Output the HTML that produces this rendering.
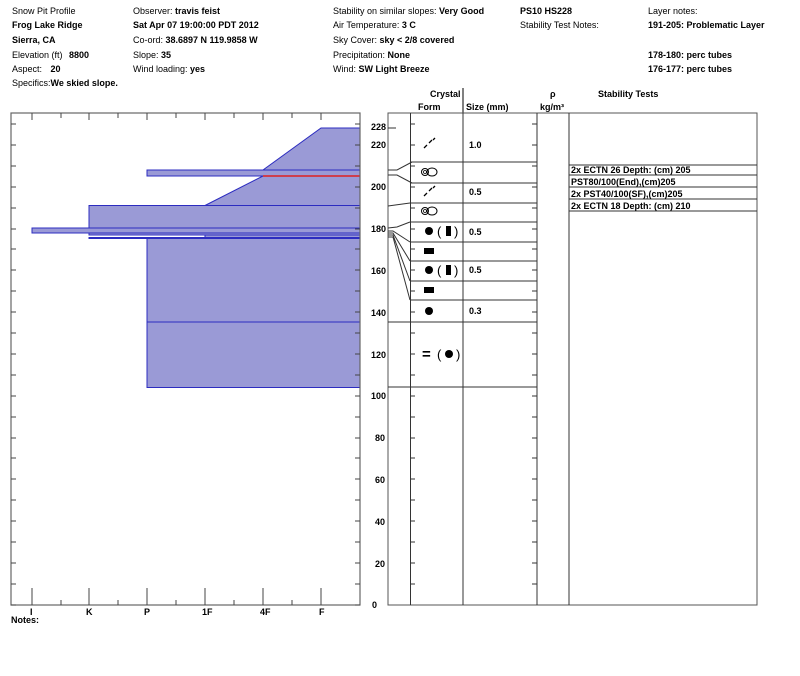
<!DOCTYPE html>
<html><head><meta charset="utf-8"><style>
html,body{margin:0;padding:0;background:#fff;width:800px;height:676px;overflow:hidden}
svg{display:block}
text{font-family:"Liberation Sans",Arial,sans-serif;font-size:9px;fill:#000}
.b{font-weight:bold}
.p{font-size:13px}
.e{font-size:15px;font-weight:bold}
</style></head><body>
<svg width="800" height="676" viewBox="0 0 800 676" xmlns="http://www.w3.org/2000/svg">
<g>
<text x="12" y="14">Snow Pit Profile</text>
<text x="12" y="28" class="b">Frog Lake Ridge</text>
<text x="12" y="43" class="b">Sierra, CA</text>
<text x="12" y="58">Elevation (ft) <tspan class="b" dx="4">8800</tspan></text>
<text x="12" y="72">Aspect: <tspan class="b" dx="6">20</tspan></text>
<text x="12" y="86">Specifics:<tspan class="b">We skied slope.</tspan></text>
<text x="133" y="14">Observer: <tspan class="b">travis feist</tspan></text>
<text x="133" y="28" class="b">Sat Apr 07 19:00:00 PDT 2012</text>
<text x="133" y="43">Co-ord: <tspan class="b">38.6897 N 119.9858 W</tspan></text>
<text x="133" y="58">Slope: <tspan class="b">35</tspan></text>
<text x="133" y="72">Wind loading: <tspan class="b">yes</tspan></text>
<text x="333" y="14">Stability on similar slopes: <tspan class="b">Very Good</tspan></text>
<text x="333" y="28">Air Temperature: <tspan class="b">3 C</tspan></text>
<text x="333" y="43">Sky Cover: <tspan class="b">sky &lt; 2/8 covered</tspan></text>
<text x="333" y="58">Precipitation: <tspan class="b">None</tspan></text>
<text x="333" y="72">Wind: <tspan class="b">SW Light Breeze</tspan></text>
<text x="520" y="14" class="b">PS10 HS228</text>
<text x="520" y="28">Stability Test Notes:</text>
<text x="648" y="14">Layer notes:</text>
<text x="648" y="28" class="b">191-205: Problematic Layer</text>
<text x="648" y="58" class="b">178-180: perc tubes</text>
<text x="648" y="72" class="b">176-177: perc tubes</text>
<text x="430" y="97" class="b">Crystal</text>
<text x="418" y="110" class="b">Form</text>
<text x="466" y="110" class="b">Size (mm)</text>
<text x="550" y="97" class="b">ρ</text>
<text x="540" y="110" class="b">kg/m³</text>
<text x="598" y="97" class="b">Stability Tests</text>
<line x1="463" y1="88" x2="463" y2="113" stroke="#000" stroke-width="1"/>
</g>

<g fill="#9a9ad6" stroke="#2c2cc0" stroke-width="1">
<polygon points="321,128 360,128 360,170 263,170"/>
<rect x="147" y="170" width="213" height="6"/>
<polygon points="263,176 360,176 360,205.5 205,205.5"/>
<rect x="89" y="205.5" width="271" height="22.5"/>
<rect x="32" y="228" width="328" height="5"/>
<rect x="89" y="233" width="271" height="2"/>
<rect x="205" y="235" width="155" height="2.5"/>
<rect x="89" y="237.5" width="271" height="1"/>
<rect x="147" y="238.5" width="213" height="83.5"/>
<rect x="147" y="322" width="213" height="65.5"/>
</g>
<line x1="263" y1="176" x2="360" y2="176" stroke="#e02020" stroke-width="1.5"/>
<rect x="11" y="113" width="349" height="492" fill="none" stroke="#666" stroke-width="1.2"/>
<g stroke="#444" stroke-width="1">
<path d="M11 605h5M11 584h5M11 563h5M11 542h5M11 521h5M11 500h5M11 479h5M11 458h5M11 438h5M11 417h5M11 396h5M11 375h5M11 354h5M11 333h5M11 312h5M11 291h5M11 270h5M11 249h5M11 229h5M11 208h5M11 187h5M11 166h5M11 145h5M11 124h5"/>
<path d="M360 605h-5M360 584h-5M360 563h-5M360 542h-5M360 521h-5M360 500h-5M360 479h-5M360 458h-5M360 438h-5M360 417h-5M360 396h-5M360 375h-5M360 354h-5M360 333h-5M360 312h-5M360 291h-5M360 270h-5M360 249h-5M360 229h-5M360 208h-5M360 187h-5M360 166h-5M360 145h-5M360 124h-5"/>
<path d="M32 113v7M61 113v5M89 113v7M118 113v5M147 113v7M176 113v5M205 113v7M234 113v5M263 113v7M292 113v5M321 113v7"/>
<path d="M32 605v-17M61 605v-5M89 605v-17M118 605v-5M147 605v-17M176 605v-5M205 605v-17M234 605v-5M263 605v-17M292 605v-5M321 605v-17"/>
</g>
<g>
<text x="30" y="615" class="b">I</text>
<text x="86" y="615" class="b">K</text>
<text x="144" y="615" class="b">P</text>
<text x="202" y="615" class="b">1F</text>
<text x="260" y="615" class="b">4F</text>
<text x="319" y="615" class="b">F</text>
<text x="11" y="623" class="b">Notes:</text>
</g>

<g>
<text x="371" y="130" class="b">228</text>
<text x="371" y="148" class="b">220</text>
<text x="371" y="190" class="b">200</text>
<text x="371" y="232" class="b">180</text>
<text x="371" y="274" class="b">160</text>
<text x="371" y="316" class="b">140</text>
<text x="371" y="358" class="b">120</text>
<text x="371" y="399" class="b">100</text>
<text x="375" y="441" class="b">80</text>
<text x="375" y="483" class="b">60</text>
<text x="375" y="525" class="b">40</text>
<text x="375" y="567" class="b">20</text>
<text x="372" y="608" class="b">0</text>
</g>
<g stroke="#333" stroke-width="1" fill="none">
<rect x="388" y="113" width="369" height="492" stroke="#555"/>
<line x1="410.5" y1="113" x2="410.5" y2="605"/>
<line x1="463" y1="113" x2="463" y2="605"/>
<line x1="537" y1="113" x2="537" y2="605"/>
<line x1="569" y1="113" x2="569" y2="605"/>
<path d="M410 162h127M410 183h127M410 203h127M410 222h127M410 242h127M410 261h127M410 281h127M410 300h127M388 322h149M388 387h149"/>
<path d="M388 170h9l15-8M388 175h9l15 8M388 206l22-3M388 228l9-1l13-5M388 231l5 0l17 11M388 233l5 0l17 28M388 235l5 0l17 46M388 237l5 0l17 63"/>
<path d="M410 145h5M410 187h5M410 229h5M410 270h5M410 312h5M410 354h5M410 375h5M410 396h5M410 417h5M410 438h5M410 458h5M410 479h5M410 500h5M410 521h5M410 542h5M410 563h5M410 584h5M410 124h5M410 166h5M410 208h5M410 249h5M410 291h5M410 333h5"/>
<path d="M537 145h-5M537 187h-5M537 229h-5M537 270h-5M537 312h-5M537 354h-5M537 375h-5M537 396h-5M537 417h-5M537 438h-5M537 458h-5M537 479h-5M537 500h-5M537 521h-5M537 542h-5M537 563h-5M537 584h-5M537 124h-5M537 166h-5M537 208h-5M537 249h-5M537 291h-5M537 333h-5"/>
<path d="M388 128h8"/>
<path d="M569 165h188M569 175h188M569 187h188M569 199h188M569 211h188"/>
</g>
<g stroke="#000" stroke-width="1.3" fill="none">
<path d="M424 148l3-3M429 143l3-3M433 140l2-2"/>
<path d="M424 196l3-3M429 191l3-3M433 188l2-2"/>
<circle cx="425" cy="172" r="3.5" stroke-width="1"/><circle cx="425" cy="172" r="1.5" stroke-width="0.8"/><ellipse cx="432" cy="172" rx="5" ry="4" stroke-width="1"/>
<circle cx="425" cy="211" r="3.5" stroke-width="1"/><circle cx="425" cy="211" r="1.5" stroke-width="0.8"/><ellipse cx="432" cy="211" rx="5" ry="4" stroke-width="1"/>
</g>
<circle cx="429" cy="231" r="4" fill="#000"/>
<text x="437" y="236" class="p">(</text><rect x="446" y="226" width="5" height="10" fill="#000"/><text x="454" y="236" class="p">)</text>
<rect x="424" y="248" width="10" height="6" fill="#000"/>
<circle cx="429" cy="270" r="4" fill="#000"/>
<text x="437" y="275" class="p">(</text><rect x="446" y="265" width="5" height="10" fill="#000"/><text x="454" y="275" class="p">)</text>
<rect x="424" y="287" width="10" height="6" fill="#000"/>
<circle cx="429" cy="311" r="4" fill="#000"/>
<text x="422" y="359" class="e">=</text>
<text x="437" y="359" class="p">(</text><circle cx="449" cy="354" r="4" fill="#000"/><text x="456" y="359" class="p">)</text>
<text x="469" y="148" class="b">1.0</text>
<text x="469" y="195" class="b">0.5</text>
<text x="469" y="235" class="b">0.5</text>
<text x="469" y="273" class="b">0.5</text>
<text x="469" y="314" class="b">0.3</text>
<text x="571" y="173" class="b">2x ECTN 26   Depth: (cm) 205</text>
<text x="571" y="185" class="b">PST80/100(End),(cm)205</text>
<text x="571" y="197" class="b">2x PST40/100(SF),(cm)205</text>
<text x="571" y="209" class="b">2x ECTN 18   Depth: (cm) 210</text>
</svg>
</body></html>
